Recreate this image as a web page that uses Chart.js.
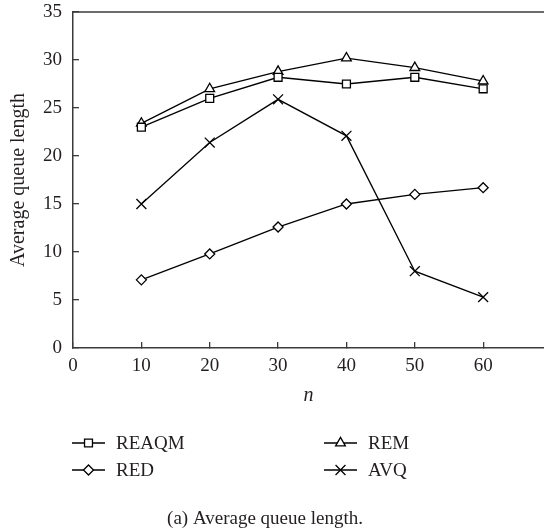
<!DOCTYPE html>
<html>
<head>
<meta charset="utf-8">
<script src="https://cdn.jsdelivr.net/npm/chart.js@4"></script>
<style>
  html, body { margin: 0; padding: 0; background: #ffffff; }
  #c { display: block; }
</style>
</head>
<body>
<canvas id="c" width="544" height="531"></canvas>
<script>
// ---- data ----
const categories = [10, 20, 30, 40, 50, 60];
const reaqmValues = [23.0, 26.0, 28.2, 27.5, 28.2, 27.0];
const remValues   = [23.4, 27.0, 28.8, 30.2, 29.2, 27.8];
const redValues   = [7.1, 9.8, 12.6, 15.0, 16.0, 16.7];
const avqValues   = [15.0, 21.4, 25.9, 22.1, 8.0, 5.3];
const seriesNames = ['REAQM', 'REM', 'RED', 'AVQ'];
const xTickLabels = [0, 10, 20, 30, 40, 50, 60];
const yTickLabels = [0, 5, 10, 15, 20, 25, 30, 35];
const xTitle = 'n';
const yTitle = 'Average queue length';
const caption = '(a) Average queue length.';

// ---- styling ----
const FONT = "'Liberation Serif', 'Times New Roman', serif";
const TEXT = '#231f20';
const AXIS = '#3a3a3a';
const LINE = '#000000';

function pts(vals) { return categories.map((c, i) => ({ x: c, y: vals[i] })); }

const styles = {
  REAQM: { pointStyle: 'rect', radius: 5.6 },
  REM:   { pointStyle: 'triangle', radius: 5.6 },
  RED:   { pointStyle: 'rectRot', radius: 5 },
  AVQ:   { pointStyle: 'crossRot', radius: 7 }
};
const seriesValues = [reaqmValues, remValues, redValues, avqValues];

const datasets = seriesNames.map((name, i) => ({
  label: name,
  data: pts(seriesValues[i]),
  borderColor: LINE,
  backgroundColor: '#ffffff',
  borderWidth: 1.3,
  pointStyle: styles[name].pointStyle,
  pointRadius: styles[name].radius,
  pointHoverRadius: styles[name].radius,
  pointBorderColor: LINE,
  pointBackgroundColor: '#ffffff',
  pointBorderWidth: 1.3,
  tension: 0,
  fill: false
}));

const extras = {
  id: 'extras',
  afterDraw(chart) {
    const ctx = chart.ctx;
    const area = chart.chartArea;
    ctx.save();
    // top frame line
    ctx.strokeStyle = AXIS;
    ctx.lineWidth = 1.5;
    ctx.beginPath();
    ctx.moveTo(area.left, area.top);
    ctx.lineTo(area.right, area.top);
    ctx.stroke();

    // legend in a 2x2 grid
    const colX = [72, 324];
    const rowY = [443, 470];
    const lineLen = 33;
    chart.data.datasets.forEach((ds, i) => {
      const col = i % 2, row = Math.floor(i / 2);
      const x0 = colX[col], y = rowY[row];
      ctx.strokeStyle = LINE;
      ctx.lineWidth = 1.3;
      ctx.beginPath();
      ctx.moveTo(x0, y);
      ctx.lineTo(x0 + lineLen, y);
      ctx.stroke();
      ctx.fillStyle = '#ffffff';
      ctx.strokeStyle = LINE;
      ctx.lineWidth = 1.3;
      if (Chart.helpers && Chart.helpers.drawPoint) {
        Chart.helpers.drawPoint(ctx, {
          pointStyle: ds.pointStyle,
          rotation: 0,
          borderWidth: 1.3,
          radius: ds.pointRadius
        }, x0 + lineLen / 2, y);
      }
      ctx.fillStyle = TEXT;
      ctx.font = '19px ' + FONT;
      ctx.textAlign = 'left';
      ctx.textBaseline = 'middle';
      ctx.fillText(ds.label, x0 + 44, y + 1);
    });

    // caption
    ctx.fillStyle = TEXT;
    ctx.font = '19px ' + FONT;
    ctx.textAlign = 'center';
    ctx.textBaseline = 'middle';
    ctx.fillText(caption, 265, 519);
    ctx.restore();
  }
};

new Chart(document.getElementById('c'), {
  type: 'line',
  data: { datasets },
  options: {
    responsive: false,
    animation: false,
    events: [],
    layout: { autoPadding: false, padding: { top: 12, right: 0, bottom: 123, left: 0 } },
    plugins: { legend: { display: false }, tooltip: { enabled: false } },
    scales: {
      x: {
        type: 'linear',
        min: 0,
        max: 68.9,
        afterBuildTicks: (s) => { s.ticks = xTickLabels.map(v => ({ value: v })); },
        afterFit: (s) => { s.height = 60; s.paddingLeft = 0; s.paddingRight = 0; },
        border: { display: true, color: AXIS, width: 1.5 },
        grid: { display: true, drawOnChartArea: false, drawTicks: true, tickLength: -6, color: AXIS, lineWidth: 1.3 },
        ticks: { color: TEXT, font: { family: FONT, size: 19 }, padding: 13, maxRotation: 0, autoSkip: false },
        title: { display: true, text: xTitle, color: TEXT, font: { family: FONT, size: 20, style: 'italic' }, padding: { top: 0, bottom: 0 } }
      },
      y: {
        type: 'linear',
        min: 0,
        max: 35,
        afterBuildTicks: (s) => { s.ticks = yTickLabels.map(v => ({ value: v })); },
        afterFit: (s) => { s.width = 73; s.paddingTop = 0; s.paddingBottom = 0; },
        border: { display: true, color: AXIS, width: 1.5 },
        grid: { display: true, drawOnChartArea: false, drawTicks: true, tickLength: -6, color: AXIS, lineWidth: 1.3 },
        ticks: { color: TEXT, font: { family: FONT, size: 19 }, padding: 17 },
        title: { display: true, text: yTitle, color: TEXT, font: { family: FONT, size: 20 }, padding: { top: 7, bottom: 0 } }
      }
    }
  },
  plugins: [extras]
});
</script>
</body>
</html>
